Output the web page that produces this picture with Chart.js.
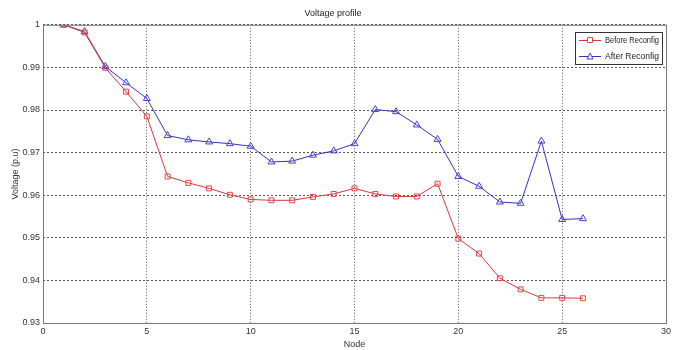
<!DOCTYPE html>
<html>
<head>
    <title>Voltage profile</title>
    <script src="https://cdn.jsdelivr.net/npm/chart.js@4.4.0/dist/chart.umd.min.js"></script>
    <style>
        html, body {
            margin: 0;
            padding: 0;
            background: #ffffff;
        }
        .chart-box {
            position: relative;
            width: 678px;
            height: 350px;
        }
    </style>
</head>
<body>
    <div class="chart-box">
        <canvas id="voltageChart" width="678" height="350"></canvas>
    </div>

    <script>
        // Node numbers and voltage values (p.u)
        const nodes = [1,2,3,4,5,6,7,8,9,10,11,12,13,14,15,16,17,18,19,20,21,22,23,24,25,26];
        const beforeReconfig = [1.0,0.9982,0.9899,0.9843,0.9785,0.9644,0.9629,0.9616,0.9601,0.9590,0.9588,0.9588,0.9596,0.9603,0.9616,0.9603,0.9597,0.9597,0.9627,0.9498,0.9463,0.9405,0.9379,0.9359,0.9359,0.9358];
        const afterReconfig = [1.0,0.9984,0.9902,0.9864,0.9827,0.9740,0.9730,0.9725,0.9721,0.9715,0.9678,0.9680,0.9694,0.9704,0.9721,0.9801,0.9796,0.9765,0.9731,0.9644,0.9621,0.9584,0.9581,0.9727,0.9543,0.9545];
        const seriesNames = ['Before Reconfig', 'After Reconfig'];

        const fontFamily = "'Liberation Sans Narrow', 'Liberation Sans', Arial, sans-serif";

        // frame around the plot area + legend box in the top right corner
        const framePlugin = {
            id: 'frame',
            afterDraw(chart) {
                const ctx = chart.ctx;
                const a = chart.chartArea;
                ctx.save();
                ctx.setLineDash([]);
                ctx.strokeStyle = '#7a7a7a';
                ctx.lineWidth = 1;
                ctx.strokeRect(a.left + 0.5, a.top + 0.5, a.right - a.left, a.bottom - a.top);

                // legend
                const lx = 575, ly = 32, lw = 87, lh = 32;
                ctx.fillStyle = '#ffffff';
                ctx.fillRect(lx, ly, lw, lh);
                ctx.strokeStyle = '#333333';
                ctx.strokeRect(lx + 0.5, ly + 0.5, lw, lh);
                ctx.font = '9px ' + fontFamily;
                ctx.textBaseline = 'middle';
                chart.data.datasets.forEach((ds, i) => {
                    const y = ly + 8 + i * 16;
                    const mx = lx + 15;
                    ctx.strokeStyle = ds.borderColor;
                    ctx.beginPath();
                    ctx.moveTo(lx + 4, y + 0.5);
                    ctx.lineTo(lx + 26, y + 0.5);
                    ctx.stroke();
                    ctx.beginPath();
                    if (ds.pointStyle === 'rect') {
                        ctx.rect(mx - 2.5, y - 2.5, 5, 5);
                    } else {
                        ctx.moveTo(mx, y - 3);
                        ctx.lineTo(mx + 3, y + 3);
                        ctx.lineTo(mx - 3, y + 3);
                        ctx.closePath();
                    }
                    ctx.fillStyle = '#ffffff';
                    ctx.fill();
                    ctx.strokeStyle = ds.pointBorderColor;
                    ctx.stroke();
                    // squeeze the label so it fits the box like the condensed original
                    const tw = ctx.measureText(ds.label).width;
                    const maxW = 54;
                    const sx = Math.min(1, maxW / tw);
                    ctx.save();
                    ctx.translate(lx + 30, y + 1);
                    ctx.scale(sx, 1);
                    ctx.fillStyle = '#222222';
                    ctx.fillText(ds.label, 0, 0);
                    ctx.restore();
                });
                ctx.restore();
            }
        };

        const ctx = document.getElementById('voltageChart').getContext('2d');
        const chart = new Chart(ctx, {
            type: 'line',
            data: {
                datasets: [{
                    label: seriesNames[0],
                    data: nodes.map((n, i) => ({x: n, y: beforeReconfig[i]})),
                    borderColor: '#d23a3a',
                    pointBorderColor: '#e04848',
                    pointBackgroundColor: 'rgba(255,255,255,0)',
                    pointStyle: 'rect',
                    pointRadius: 3.5,
                    pointBorderWidth: 1,
                    borderWidth: 1,
                    tension: 0
                }, {
                    label: seriesNames[1],
                    data: nodes.map((n, i) => ({x: n, y: afterReconfig[i]})),
                    borderColor: '#3333bb',
                    pointBorderColor: '#4444cc',
                    pointBackgroundColor: 'rgba(255,255,255,0)',
                    pointStyle: 'triangle',
                    pointRadius: 4,
                    pointBorderWidth: 1,
                    borderWidth: 1,
                    tension: 0
                }]
            },
            options: {
                responsive: false,
                animation: false,
                devicePixelRatio: 1,
                layout: {
                    padding: {top: 0, right: 12, bottom: 0, left: 0}
                },
                plugins: {
                    legend: {display: false},
                    tooltip: {enabled: false},
                    title: {
                        display: true,
                        text: 'Voltage profile',
                        color: '#222222',
                        font: {family: fontFamily, size: 9, weight: 'normal'},
                        padding: {top: 8, bottom: 6}
                    }
                },
                scales: {
                    x: {
                        type: 'linear',
                        min: 0,
                        max: 30,
                        afterFit(scale) { scale.height = 27; },
                        ticks: {
                            stepSize: 5,
                            color: '#333333',
                            padding: 3,
                            maxRotation: 0,
                            font: {family: fontFamily, size: 9}
                        },
                        grid: {
                            color: '#555555',
                            lineWidth: 1,
                            drawTicks: false
                        },
                        border: {display: false, dash: [1, 2]},
                        title: {
                            display: true,
                            text: 'Node',
                            color: '#333333',
                            font: {family: fontFamily, size: 9},
                            padding: 0
                        }
                    },
                    y: {
                        min: 0.93,
                        max: 1,
                        afterFit(scale) { scale.width = 43; },
                        ticks: {
                            stepSize: 0.01,
                            color: '#333333',
                            padding: 3,
                            font: {family: fontFamily, size: 9},
                            callback: v => String(Number(v.toFixed(2)))
                        },
                        grid: {
                            color: '#555555',
                            lineWidth: 1,
                            drawTicks: false
                        },
                        border: {display: false, dash: [2, 2]},
                        title: {
                            display: true,
                            text: 'Voltage (p.u)',
                            color: '#333333',
                            font: {family: fontFamily, size: 9, weight: 'normal'},
                            padding: {top: 10, bottom: 0}
                        }
                    }
                }
            },
            plugins: [framePlugin]
        });
    </script>
</body>
</html>
